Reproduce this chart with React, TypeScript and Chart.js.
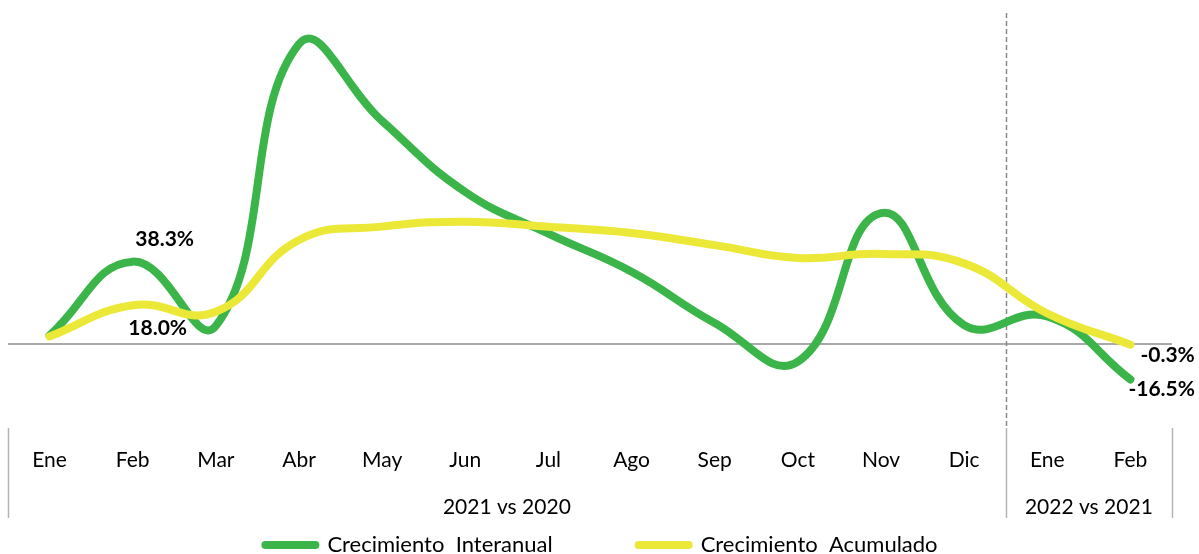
import React, { useEffect, useRef } from "react";
import { Chart, registerables } from "chart.js";

Chart.register(...registerables);

// ---- data ----
const months = ["Ene", "Feb", "Mar", "Abr", "May", "Jun", "Jul", "Ago", "Sep", "Oct", "Nov", "Dic", "Ene", "Feb"];
const groupLabels = ["2021 vs 2020", "2022 vs 2021"];
const interanual = [4.0, 38.3, 8.4, 139.5, 103.7, 70.7, 51.3, 33.6, 9.8, -8.2, 60.9, 8.8, 12.8, -16.5];
const acumulado = [3.5, 18.0, 15.0, 48.4, 54.6, 56.9, 54.5, 51.6, 46.0, 40.0, 41.9, 37.5, 14.2, -0.3];
const seriesNames = ["Crecimiento  Interanual", "Crecimiento  Acumulado"];
const labeledIdx = [1, 13];

// ---- styles ----
const GREEN = "#3bb54a";
const YELLOW = "#ebe838";
const FONT = "Lato, 'Open Sans', sans-serif";
// label offsets relative to the point: [dx, dy, align]
const labelStyle: Record<string, [number, number, CanvasTextAlign][]> = {
  g: [[32, -22, "center"], [-2, 10, "left"]],
  y: [[25, 23, "center"], [10, 11, "left"]],
};

const decor = {
  id: "decor",
  beforeDatasetsDraw(chart: any) {
    const { ctx, chartArea, scales } = chart;
    const x = scales.x;
    const y = scales.y;
    ctx.save();
    const y0 = y.getPixelForValue(0);
    ctx.strokeStyle = "#a9a9a9";
    ctx.lineWidth = 2;
    ctx.beginPath();
    ctx.moveTo(chartArea.left, y0);
    ctx.lineTo(chartArea.right, y0);
    ctx.stroke();
    const sep = (x.getPixelForValue(11) + x.getPixelForValue(12)) / 2;
    ctx.strokeStyle = "#8a8a8a";
    ctx.lineWidth = 1.5;
    ctx.setLineDash([5, 3]);
    ctx.beginPath();
    ctx.moveTo(Math.round(sep) + 0.5, 13);
    ctx.lineTo(Math.round(sep) + 0.5, 428);
    ctx.stroke();
    ctx.setLineDash([]);
    ctx.restore();
  },
  afterDraw(chart: any) {
    const { ctx, chartArea, scales } = chart;
    const x = scales.x;
    const y = scales.y;
    ctx.save();
    const sep = (x.getPixelForValue(11) + x.getPixelForValue(12)) / 2;
    ctx.strokeStyle = "#b4b4b4";
    ctx.lineWidth = 1.5;
    [chartArea.left, sep, chartArea.right].forEach((px) => {
      ctx.beginPath();
      ctx.moveTo(Math.round(px) + 0.5, 428);
      ctx.lineTo(Math.round(px) + 0.5, 518);
      ctx.stroke();
    });
    ctx.fillStyle = "#000";
    ctx.font = `21px ${FONT}`;
    ctx.textAlign = "center";
    ctx.textBaseline = "middle";
    months.forEach((m, i) => {
      ctx.fillText(m, x.getPixelForValue(i), 460);
    });
    const bounds = [chartArea.left, sep, chartArea.right];
    groupLabels.forEach((g, i) => {
      const cx = (bounds[i] + bounds[i + 1]) / 2;
      ctx.fillText(g, cx, 507);
    });
    ctx.font = `bold 21px ${FONT}`;
    const series: [number[], string][] = [[interanual, "g"], [acumulado, "y"]];
    series.forEach(([data, key]) => {
      labeledIdx.forEach((idx, k) => {
        const [dx, dy, align] = labelStyle[key][k];
        const v = data[idx];
        ctx.textAlign = align;
        ctx.fillText(`${v.toFixed(1)}%`, x.getPixelForValue(idx) + dx, y.getPixelForValue(v) + dy);
      });
    });
    ctx.font = `22px ${FONT}`;
    ctx.textAlign = "left";
    const sampleW = 58;
    const gapText = 8;
    const gapItems = 82;
    const widths = seriesNames.map((n) => sampleW + gapText + ctx.measureText(n).width);
    const total = widths[0] + gapItems + widths[1];
    let lx = (chart.width - total) / 2;
    const ly = 545;
    [GREEN, YELLOW].forEach((col, i) => {
      ctx.strokeStyle = col;
      ctx.lineWidth = 8;
      ctx.lineCap = "round";
      ctx.beginPath();
      ctx.moveTo(lx + 4, ly);
      ctx.lineTo(lx + sampleW - 4, ly);
      ctx.stroke();
      ctx.fillStyle = "#000";
      ctx.fillText(seriesNames[i], lx + sampleW + gapText, ly);
      lx += widths[i] + gapItems;
    });
    ctx.restore();
  },
};

export default function App() {
  const ref = useRef<HTMLCanvasElement>(null);
  useEffect(() => {
    if (!ref.current) return;
    const common = {
      borderWidth: 8,
      tension: 0.45,
      pointRadius: 0,
      borderCapStyle: "round" as const,
      borderJoinStyle: "round" as const,
      clip: false as any,
    };
    const chart = new Chart(ref.current, {
      type: "line",
      data: {
        labels: months.map((m, i) => `${m}${i}`),
        datasets: [
          { ...common, label: seriesNames[0], data: interanual, borderColor: GREEN, backgroundColor: GREEN, order: 1 },
          { ...common, label: seriesNames[1], data: acumulado, borderColor: YELLOW, backgroundColor: YELLOW, order: 0 },
        ],
      },
      options: {
        animation: false,
        responsive: false,
        layout: { padding: { left: 8, right: 27, top: 0, bottom: 124 } },
        plugins: { legend: { display: false }, tooltip: { enabled: false } },
        scales: {
          x: { type: "category", offset: true, display: false },
          y: { min: -40, max: 160, display: false },
        },
      },
      plugins: [decor],
    });
    return () => chart.destroy();
  }, []);
  return (
    <div style={{ position: "absolute", left: 0, top: 0, width: 1199, height: 554, background: "#fff" }}>
      <canvas ref={ref} width={1199} height={554} />
    </div>
  );
}
